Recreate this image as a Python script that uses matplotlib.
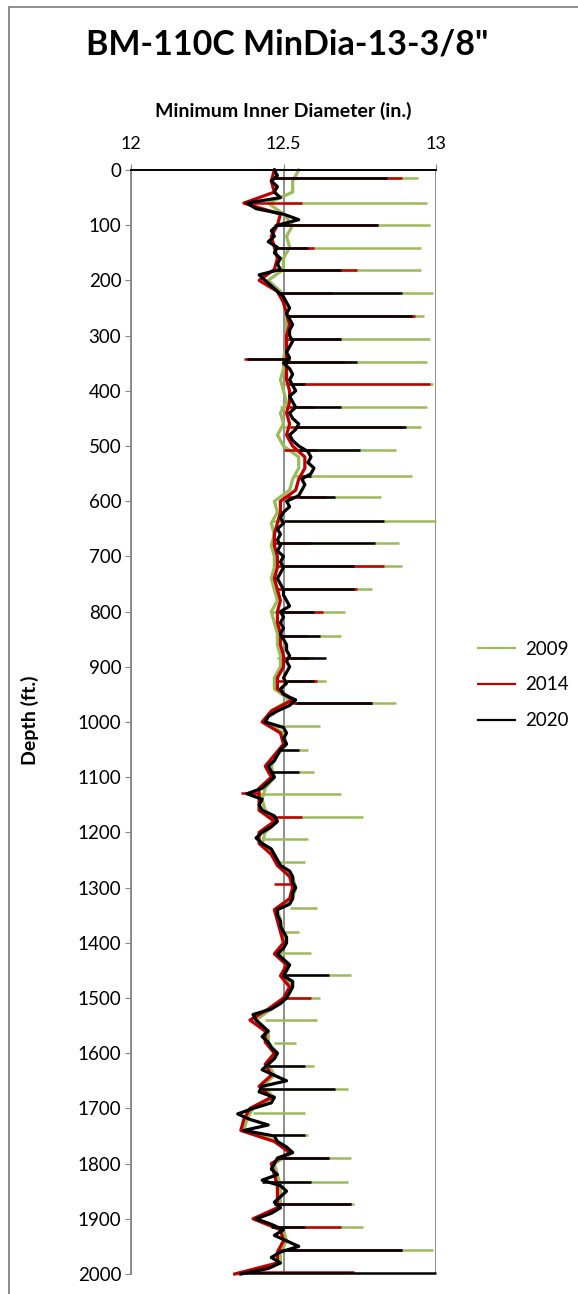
import numpy as np
import matplotlib
matplotlib.use("Agg")
import matplotlib.pyplot as plt
from matplotlib.lines import Line2D

plt.rcParams['font.family'] = ['Lato', 'DejaVu Sans']

TITLE = 'BM-110C MinDia-13-3/8"'
years = ["2009", "2014", "2020"]
colors = {"2009": "#9BBB59", "2014": "#C00000", "2020": "#000000"}

# 2020 trace, read every 10 ft (0..2000)
depth_2020 = np.arange(0, 2001, 10)
dia_2020 = [
    12.47, 12.48, 12.46, 12.48, 12.47, 12.49, 12.38, 12.41, 12.50, 12.55,
    12.48, 12.46, 12.47, 12.45, 12.48, 12.47, 12.49, 12.48, 12.49, 12.42,
    12.44, 12.46, 12.48, 12.50, 12.51, 12.52, 12.51, 12.52, 12.53, 12.52,
    12.52, 12.53, 12.52, 12.51, 12.52, 12.50, 12.52, 12.53, 12.52, 12.53,
    12.54, 12.52, 12.53, 12.54, 12.52, 12.53, 12.55, 12.54, 12.52, 12.53,
    12.55, 12.58, 12.59, 12.58, 12.60, 12.59, 12.56, 12.57, 12.56, 12.55,
    12.51, 12.52, 12.50, 12.49, 12.50, 12.48, 12.49, 12.48, 12.49, 12.48,
    12.50, 12.49, 12.50, 12.49, 12.48, 12.49, 12.50, 12.50, 12.51, 12.52,
    12.49, 12.50, 12.49, 12.50, 12.49, 12.50, 12.51, 12.51, 12.52, 12.51,
    12.52, 12.51, 12.50, 12.51, 12.49, 12.50, 12.54, 12.52, 12.48, 12.45,
    12.44, 12.50, 12.51, 12.50, 12.51, 12.49, 12.48, 12.47, 12.45, 12.46,
    12.47, 12.45, 12.43, 12.38, 12.43, 12.42, 12.43, 12.47, 12.48, 12.46,
    12.43, 12.41, 12.43, 12.46, 12.47, 12.48, 12.49, 12.52, 12.53, 12.53,
    12.54, 12.53, 12.53, 12.52, 12.48, 12.48, 12.49, 12.49, 12.50, 12.51,
    12.51, 12.50, 12.48, 12.50, 12.52, 12.51, 12.50, 12.53, 12.53, 12.52,
    12.51, 12.49, 12.46, 12.40, 12.41, 12.43, 12.45, 12.43, 12.45, 12.46,
    12.48, 12.47, 12.45, 12.43, 12.47, 12.51, 12.43, 12.42, 12.47, 12.46,
    12.40, 12.35, 12.39, 12.45, 12.37, 12.47, 12.48, 12.51, 12.53, 12.48,
    12.47, 12.46, 12.48, 12.43, 12.49, 12.51, 12.49, 12.47, 12.49, 12.46,
    12.41, 12.46, 12.50, 12.47, 12.51, 12.55, 12.49, 12.46, 12.49, 12.45,
    12.36,
]

# 2009 and 2014 traces, read every 20 ft
depth_20 = np.arange(0, 2001, 20)
dia_2009 = [
    12.55, 12.53, 12.53, 12.45, 12.50, 12.53, 12.51, 12.52, 12.50, 12.50,
    12.45, 12.49, 12.50, 12.51, 12.51, 12.51, 12.51, 12.50, 12.50, 12.49,
    12.50, 12.51, 12.49, 12.50, 12.48, 12.50, 12.55, 12.55, 12.53, 12.52,
    12.47, 12.48, 12.46, 12.47, 12.46, 12.47, 12.47, 12.46, 12.47, 12.48,
    12.46, 12.47, 12.48, 12.48, 12.49, 12.49, 12.47, 12.47, 12.52, 12.46,
    12.44, 12.50, 12.51, 12.48, 12.46, 12.47, 12.44, 12.43, 12.44, 12.48,
    12.44, 12.43, 12.47, 12.49, 12.53, 12.54, 12.53, 12.48, 12.49, 12.50,
    12.51, 12.48, 12.52, 12.50, 12.53, 12.51, 12.46, 12.41, 12.45, 12.45,
    12.48, 12.45, 12.47, 12.43, 12.47, 12.40, 12.38, 12.37, 12.48, 12.53,
    12.47, 12.48, 12.49, 12.49, 12.49, 12.41, 12.50, 12.51, 12.49, 12.49,
    12.35,
]
dia_2014 = [
    12.47, 12.46, 12.47, 12.37, 12.49, 12.48, 12.46, 12.47, 12.48, 12.47,
    12.42, 12.48, 12.50, 12.51, 12.52, 12.51, 12.51, 12.51, 12.51, 12.51,
    12.52, 12.52, 12.51, 12.52, 12.51, 12.53, 12.57, 12.57, 12.55, 12.54,
    12.49, 12.49, 12.48, 12.47, 12.47, 12.48, 12.48, 12.47, 12.48, 12.49,
    12.48, 12.48, 12.49, 12.49, 12.50, 12.50, 12.48, 12.48, 12.53, 12.46,
    12.43, 12.49, 12.50, 12.47, 12.44, 12.46, 12.42, 12.42, 12.42, 12.47,
    12.42, 12.42, 12.46, 12.48, 12.52, 12.53, 12.52, 12.47, 12.48, 12.49,
    12.50, 12.47, 12.51, 12.49, 12.52, 12.50, 12.45, 12.39, 12.44, 12.44,
    12.47, 12.44, 12.46, 12.42, 12.46, 12.39, 12.37, 12.36, 12.47, 12.52,
    12.46, 12.47, 12.48, 12.48, 12.48, 12.40, 12.49, 12.50, 12.48, 12.48,
    12.34,
]

# single-reading spikes: depth, trace value, spike value
spike_depth_2009 = [15, 60, 100, 142, 181, 223, 264, 306, 347, 387, 430, 466, 507, 554, 592,
                    636, 676, 717, 759, 801, 844, 884, 926, 965, 1007, 1051, 1090, 1130, 1172,
                    1212, 1254, 1337, 1380, 1419, 1458, 1500, 1540, 1581, 1623, 1665, 1708,
                    1748, 1790, 1833, 1873, 1915, 1957]
spike_from_2009 = [12.53, 12.50, 12.52, 12.51, 12.50, 12.49, 12.51, 12.51, 12.50, 12.50, 12.49,
                   12.50, 12.50, 12.53, 12.50, 12.46, 12.46, 12.47, 12.47, 12.46, 12.48, 12.48,
                   12.47, 12.52, 12.47, 12.49, 12.47, 12.40, 12.47, 12.43, 12.48, 12.52, 12.50,
                   12.48, 12.50, 12.51, 12.44, 12.47, 12.45, 12.43, 12.40, 12.47, 12.48, 12.45,
                   12.47, 12.48, 12.50]
spike_to_2009 = [12.94, 12.97, 12.98, 12.95, 12.95, 12.99, 12.96, 12.98, 12.97, 12.99, 12.97,
                 12.95, 12.87, 12.92, 12.82, 13.00, 12.88, 12.89, 12.79, 12.70, 12.69, 12.60,
                 12.64, 12.87, 12.62, 12.58, 12.60, 12.69, 12.76, 12.58, 12.57, 12.61, 12.55,
                 12.59, 12.72, 12.62, 12.61, 12.54, 12.60, 12.71, 12.57, 12.58, 12.72, 12.71,
                 12.73, 12.76, 12.99]

spike_depth_2014 = [15, 60, 100, 142, 181, 223, 264, 306, 343, 347, 387, 430, 466, 507, 592,
                    676, 717, 759, 801, 844, 884, 926, 965, 1129, 1172, 1293, 1500, 1790,
                    1873, 1915, 1957, 1997]
spike_from_2014 = [12.47, 12.38, 12.47, 12.47, 12.48, 12.48, 12.51, 12.51, 12.52, 12.50, 12.51,
                   12.51, 12.52, 12.50, 12.51, 12.47, 12.48, 12.48, 12.48, 12.49, 12.50, 12.48,
                   12.53, 12.42, 12.45, 12.53, 12.50, 12.48, 12.48, 12.49, 12.48, 12.36]
spike_to_2014 = [12.89, 12.56, 12.81, 12.60, 12.74, 12.66, 12.93, 12.69, 12.37, 12.70, 12.98,
                 12.60, 12.89, 12.61, 12.64, 12.59, 12.83, 12.74, 12.63, 12.58, 12.58, 12.61,
                 12.79, 12.36, 12.56, 12.47, 12.59, 12.65, 12.72, 12.69, 12.89, 12.73]

spike_depth_2020 = [15, 100, 142, 181, 223, 264, 306, 343, 347, 387, 430, 466, 507, 554, 592,
                    636, 676, 717, 759, 801, 844, 884, 926, 965, 1051, 1090, 1458, 1623, 1665,
                    1748, 1790, 1833, 1873, 1915, 1957, 1999]
spike_from_2020 = [12.47, 12.48, 12.47, 12.48, 12.48, 12.51, 12.52, 12.52, 12.50, 12.52, 12.54,
                   12.54, 12.55, 12.56, 12.55, 12.50, 12.49, 12.50, 12.50, 12.49, 12.49, 12.52,
                   12.51, 12.54, 12.49, 12.46, 12.50, 12.45, 12.43, 12.47, 12.48, 12.43, 12.47,
                   12.46, 12.50, 12.36]
spike_to_2020 = [12.84, 12.81, 12.58, 12.69, 12.89, 12.92, 12.69, 12.38, 12.74, 12.57, 12.69,
                 12.90, 12.75, 12.59, 12.67, 12.83, 12.80, 12.73, 12.73, 12.60, 12.62, 12.64,
                 12.60, 12.79, 12.55, 12.55, 12.65, 12.57, 12.67, 12.57, 12.65, 12.59, 12.72,
                 12.57, 12.89, 13.00]

traces = {
    "2009": (depth_20, dia_2009, spike_depth_2009, spike_from_2009, spike_to_2009),
    "2014": (depth_20, dia_2014, spike_depth_2014, spike_from_2014, spike_to_2014),
    "2020": (depth_2020, dia_2020, spike_depth_2020, spike_from_2020, spike_to_2020),
}

W, H = 578, 1294
fig = plt.figure(figsize=(W / 100, H / 100), dpi=100)
ax = fig.add_axes([131 / W, 20 / H, 305 / W, 1104 / H])

grid_gray = "#868686"
for yr in years:
    d, v, sd, sf, st = traces[yr]
    c = colors[yr]
    ax.plot(v, d, color=c, lw=2.3, zorder=3, clip_on=False)
    ax.hlines(sd, sf, st, colors=c, lw=1.8, zorder=3, clip_on=False)

ax.set_xlim(12, 13)
ax.set_ylim(2000, 0)
ax.set_xticks([12, 12.5, 13])
ax.set_xticklabels(["12", "12.5", "13"])
ax.set_yticks(np.arange(0, 2001, 100))
ax.xaxis.tick_top()
ax.grid(axis="x", color=grid_gray, lw=1.3, zorder=1)
ax.tick_params(axis="x", direction="out", length=4, color=grid_gray, labelsize=13, pad=9)
ax.tick_params(axis="y", direction="out", length=4, color=grid_gray, labelsize=13.5, pad=3)
for s in ("right", "bottom"):
    ax.spines[s].set_visible(False)
ax.spines["left"].set_color(grid_gray)
ax.spines["left"].set_linewidth(1.3)
ax.spines["top"].set_color("black")
ax.spines["top"].set_linewidth(1.4)
ax.spines["top"].set_zorder(4)

fig.text(287 / W, 1 - 45 / H, TITLE, ha="center", va="center", fontsize=24.5, fontweight="bold")
fig.text(283 / W, 1 - 111 / H, "Minimum Inner Diameter (in.)", ha="center", va="center",
         fontsize=14, fontweight="bold")
fig.text(30 / W, 1 - 720 / H, "Depth (ft.)", ha="center", va="center", rotation=90,
         fontsize=14, fontweight="bold")

handles = [Line2D([], [], color=colors[yr], lw=1.6) for yr in years]
fig.legend(handles, years, loc="center left", bbox_to_anchor=(461 / W, 1 - 685 / H),
           frameon=False, fontsize=13.5, handlelength=2.0, labelspacing=1.0, handletextpad=0.5)

# chart-area border
fig.add_artist(Line2D([9 / W, 9 / W], [0, 1 - 7 / H], transform=fig.transFigure, color=grid_gray, lw=1.3))
fig.add_artist(Line2D([9 / W, 1], [1 - 7 / H, 1 - 7 / H], transform=fig.transFigure, color=grid_gray, lw=1.3))

fig.savefig("out.png", dpi=100)
